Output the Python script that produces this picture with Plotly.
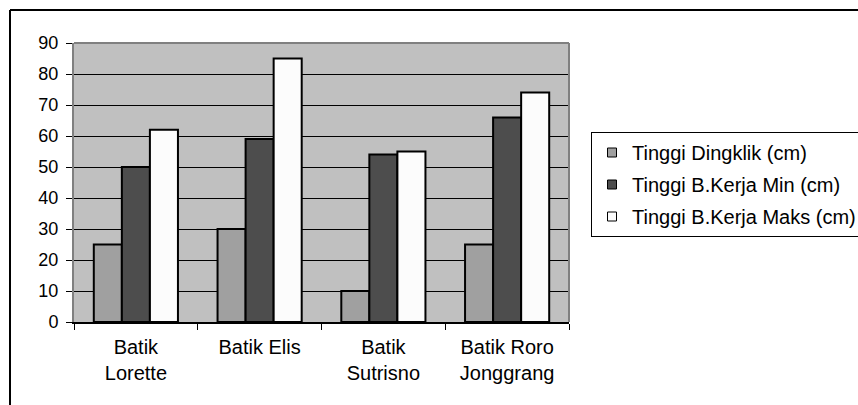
import plotly.graph_objects as go

categories = ["Batik<br>Lorette", "Batik Elis", "Batik<br>Sutrisno", "Batik Roro<br>Jonggrang"]
series_names = ["Tinggi Dingklik (cm)", "Tinggi B.Kerja Min (cm)", "Tinggi B.Kerja Maks (cm)"]
dingklik = [25, 30, 10, 25]
kerja_min = [50, 59, 54, 66]
kerja_maks = [62, 85, 55, 74]
colors = ["#a0a0a0", "#4d4d4d", "#fcfcfc"]
y_ticks = [0, 10, 20, 30, 40, 50, 60, 70, 80, 90]

FONT = "Liberation Sans, Arial, sans-serif"

fig = go.Figure()
for name, vals, col in zip(series_names, [dingklik, kerja_min, kerja_maks], colors):
    fig.add_trace(go.Bar(
        x=categories, y=vals, name=name, showlegend=False,
        marker=dict(color=col, line=dict(color="black", width=2)),
    ))
# legend entries with small square symbols
for i, (name, col) in enumerate(zip(series_names, colors)):
    fig.add_trace(go.Scatter(
        x=[None], y=[None], mode="markers", name=name, legendgroup=f"g{i}",
        marker=dict(symbol="square", size=9, color=col, line=dict(color="black", width=1)),
    ))

W, H = 858, 405
ml, mr, mt, mb = 74, 289, 43, 83
pw = W - ml - mr
ph = H - mt - mb

def px_to_paper_x(px):
    return (px - ml) / pw

def px_to_paper_y(py):
    return (H - mb - py) / ph

fig.update_layout(
    width=W, height=H,
    margin=dict(l=ml, r=mr, t=mt, b=mb, pad=0, autoexpand=False),
    paper_bgcolor="white",
    plot_bgcolor="#c0c0c0",
    barmode="group",
    bargap=0.32,
    bargroupgap=0,
    font=dict(family=FONT, size=17, color="black"),
    showlegend=True,
    legend=dict(
        x=px_to_paper_x(591), y=px_to_paper_y(132),
        xanchor="left", yanchor="top",
        bordercolor="black", borderwidth=1, bgcolor="white",
        font=dict(family=FONT, size=20, color="black"),
        itemwidth=30,
        tracegroupgap=3,
    ),
    xaxis=dict(
        showgrid=False,
        showline=True, linecolor="black", linewidth=2,
        ticks="outside", tickson="boundaries", ticklen=6, tickcolor="black", tickwidth=1,
        tickfont=dict(family=FONT, size=20, color="black"),
        ticklabelstandoff=6,
        fixedrange=True,
    ),
    yaxis=dict(
        range=[0, 90], tickvals=y_ticks,
        showgrid=True, gridcolor="black", gridwidth=1,
        showline=True, linecolor="#808080", linewidth=2,
        ticks="outside", ticklen=6, tickcolor="black", tickwidth=1,
        tickfont=dict(family=FONT, size=18, color="black"),
        ticklabelstandoff=4,
        zeroline=False,
        fixedrange=True,
    ),
    shapes=[
        dict(type="line", xref="paper", yref="paper", x0=0, x1=1, y0=1, y1=1,
             line=dict(color="#808080", width=2)),
        dict(type="line", xref="paper", yref="paper", x0=1, x1=1, y0=0, y1=1,
             line=dict(color="#808080", width=2)),
        dict(type="line", xref="paper", yref="paper",
             x0=px_to_paper_x(10), x1=px_to_paper_x(870),
             y0=px_to_paper_y(10), y1=px_to_paper_y(10),
             line=dict(color="black", width=2)),
        dict(type="line", xref="paper", yref="paper",
             x0=px_to_paper_x(10), x1=px_to_paper_x(10),
             y0=px_to_paper_y(10), y1=px_to_paper_y(420),
             line=dict(color="black", width=2)),
    ],
)

fig.write_html("out.html", config={"displayModeBar": False})
